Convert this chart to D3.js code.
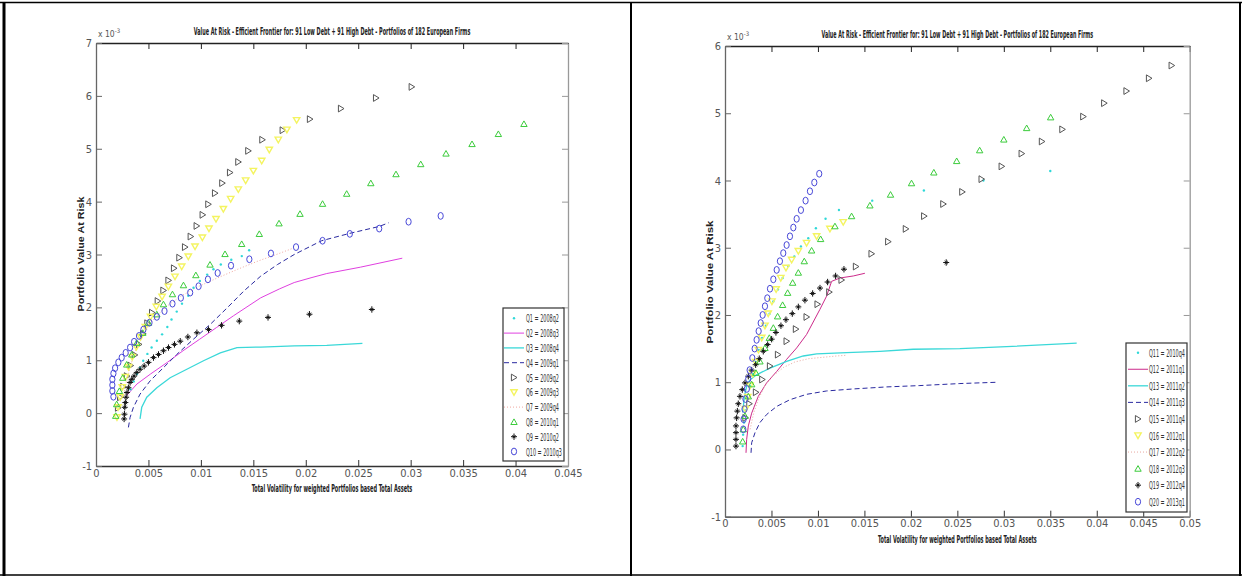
<!DOCTYPE html>
<html><head><meta charset="utf-8">
<script src="https://cdn.jsdelivr.net/npm/d3@7"></script>
<style>
html,body{margin:0;padding:0;background:#fff;}
svg{display:block;}
</style></head>
<body>
<svg id="c" width="1242" height="576"></svg>
<script>
// ---------------- DATA ----------------
const chartTitle = "Value At Risk - Efficient Frontier for: 91 Low Debt + 91 High Debt - Portfolios of 182 European Firms";
const xLabel = "Total Volatility for weighted Portfolios based Total Assets";
const yLabel = "Portfolio Value At Risk";

const leftLabels = ["Q1 = 2008q2","Q2 = 2008q3","Q3 = 2008q4","Q4 = 2009q1","Q5 = 2009q2","Q6 = 2009q3","Q7 = 2009q4","Q8 = 2010q1","Q9 = 2010q2","Q10 = 2010q3"];
const rightLabels = ["Q11 = 2010q4","Q12 = 2011q1","Q13 = 2011q2","Q14 = 2011q3","Q15 = 2011q4","Q16 = 2012q1","Q17 = 2012q2","Q18 = 2012q3","Q19 = 2012q4","Q20 = 2013q1"];

const leftXTicks = [0,0.005,0.01,0.015,0.02,0.025,0.03,0.035,0.04,0.045];
const leftYTicks = [-1,0,1,2,3,4,5,6,7];
const rightXTicks = [0,0.005,0.01,0.015,0.02,0.025,0.03,0.035,0.04,0.045,0.05];
const rightYTicks = [-1,0,1,2,3,4,5,6];

// left panel series: [volatility, VaR (x 10^-3)]
const L_Q1 = [[0.0033,0.45],[0.0036,0.60],[0.0039,0.74],[0.0042,0.86],[0.0045,0.99],[0.0049,1.12],[0.0053,1.24],[0.0058,1.37],[0.0063,1.49],[0.0068,1.63],[0.0072,1.77],[0.0077,1.92],[0.0082,2.07],[0.0088,2.22],[0.0093,2.37],[0.0099,2.50],[0.0106,2.62],[0.0112,2.72],[0.0119,2.81],[0.0129,2.90],[0.0139,2.97],[0.0146,3.08]];
const L_Q2 = [[0.0029,0.33],[0.0039,0.55],[0.0052,0.74],[0.0068,0.96],[0.0083,1.18],[0.0099,1.40],[0.0115,1.62],[0.0131,1.84],[0.0157,2.18],[0.0175,2.35],[0.0189,2.47],[0.0205,2.56],[0.0220,2.64],[0.0252,2.76],[0.0292,2.93]];
const L_Q3 = [[0.0042,-0.11],[0.00436,0.11],[0.00484,0.30],[0.0058,0.48],[0.00707,0.67],[0.00866,0.83],[0.01025,0.99],[0.01185,1.14],[0.01344,1.24],[0.0157,1.25],[0.0189,1.27],[0.0220,1.28],[0.0254,1.32]];
const L_Q4 = [[0.00309,-0.27],[0.00325,-0.08],[0.00357,0.11],[0.0042,0.36],[0.00516,0.61],[0.00643,0.86],[0.0077,1.11],[0.0093,1.40],[0.0109,1.68],[0.0125,1.99],[0.0141,2.31],[0.0157,2.59],[0.0173,2.81],[0.0189,3.00],[0.0215,3.26],[0.0242,3.40],[0.0270,3.53],[0.0279,3.60]];
const L_Q5 = [[0.0021,0.10],[0.0023,0.30],[0.0026,0.50],[0.00295,0.70],[0.0033,0.90],[0.0037,1.10],[0.0041,1.30],[0.0045,1.50],[0.0049,1.70],[0.00535,1.90],[0.00589,2.12],[0.00643,2.32],[0.00691,2.51],[0.00744,2.74],[0.00795,2.94],[0.00849,3.14],[0.00903,3.34],[0.0096,3.54],[0.01017,3.75],[0.01071,3.95],[0.01135,4.16],[0.01204,4.35],[0.01278,4.55],[0.01357,4.75],[0.01452,4.96],[0.01586,5.17],[0.0178,5.35],[0.0204,5.56],[0.02336,5.76],[0.0267,5.96],[0.0301,6.17]];
const L_Q6 = [[0.0020,-0.08],[0.0021,0.11],[0.0023,0.30],[0.0025,0.49],[0.0028,0.68],[0.0031,0.87],[0.00345,1.06],[0.00385,1.25],[0.00425,1.44],[0.0047,1.63],[0.0052,1.82],[0.00575,2.01],[0.0063,2.20],[0.0069,2.39],[0.00753,2.58],[0.00817,2.77],[0.0088,2.96],[0.00944,3.15],[0.01014,3.32],[0.01077,3.49],[0.01144,3.67],[0.01214,3.86],[0.01284,4.05],[0.01357,4.23],[0.01427,4.40],[0.0150,4.58],[0.0158,4.77],[0.01652,4.98],[0.01738,5.17],[0.0182,5.36],[0.01913,5.54]];
const L_Q7 = [[0.0026,0.30],[0.0030,0.70],[0.0036,1.10],[0.0044,1.45],[0.0054,1.75],[0.0066,2.00],[0.0080,2.20],[0.0096,2.38],[0.0115,2.55],[0.0135,2.72],[0.0155,2.88],[0.0172,3.00],[0.0188,3.12]];
const L_Q8 = [[0.00188,-0.05],[0.00197,0.17],[0.00223,0.42],[0.00255,0.67],[0.00293,0.92],[0.00341,1.11],[0.00389,1.33],[0.00446,1.52],[0.0050,1.71],[0.0058,1.87],[0.00643,2.06],[0.00729,2.25],[0.00834,2.42],[0.00952,2.61],[0.01087,2.81],[0.0123,3.01],[0.01389,3.20],[0.01557,3.39],[0.01745,3.59],[0.01945,3.77],[0.0216,3.96],[0.0239,4.15],[0.0262,4.35],[0.0286,4.52],[0.03096,4.71],[0.03337,4.91],[0.03585,5.09],[0.03836,5.28],[0.0408,5.47]];
const L_Q9 = [[0.00268,-0.11],[0.00271,-0.02],[0.00274,0.11],[0.0028,0.20],[0.00287,0.30],[0.00296,0.39],[0.00309,0.48],[0.00325,0.58],[0.00341,0.64],[0.00363,0.70],[0.00389,0.77],[0.0042,0.83],[0.00459,0.89],[0.0050,0.96],[0.00548,1.05],[0.00596,1.11],[0.00643,1.18],[0.00691,1.24],[0.00748,1.30],[0.00803,1.36],[0.00876,1.44],[0.00962,1.52],[0.01073,1.58],[0.01197,1.66],[0.01366,1.74],[0.0164,1.81],[0.02035,1.87],[0.0263,1.96]];
const L_Q10 = [[0.00166,0.31],[0.00156,0.42],[0.00156,0.53],[0.00156,0.64],[0.00166,0.75],[0.00182,0.85],[0.00213,0.96],[0.00245,1.05],[0.00283,1.14],[0.00325,1.24],[0.00363,1.35],[0.0041,1.46],[0.00452,1.58],[0.0051,1.71],[0.0058,1.82],[0.00653,1.93],[0.00729,2.07],[0.00809,2.18],[0.00898,2.28],[0.00978,2.40],[0.01067,2.53],[0.0116,2.65],[0.01287,2.79],[0.01462,2.91],[0.01668,3.02],[0.01907,3.14],[0.0216,3.26],[0.0242,3.39],[0.0270,3.49],[0.0298,3.62],[0.03286,3.73]];

// right panel series
const R_Q11 = [[0.0019,0.05],[0.00195,0.22],[0.00205,0.40],[0.0022,0.58],[0.00245,0.76],[0.0027,0.94],[0.0030,1.12],[0.0033,1.30],[0.00365,1.48],[0.0040,1.66],[0.0044,1.84],[0.0048,2.02],[0.0052,2.20],[0.0057,2.38],[0.0062,2.55],[0.00681,2.73],[0.00746,2.87],[0.00817,3.02],[0.00896,3.14],[0.00978,3.29],[0.01082,3.43],[0.01226,3.56],[0.01584,3.70],[0.0214,3.85],[0.0278,4.00],[0.0350,4.14]];
const R_Q12 = [[0.00226,-0.05],[0.00233,0.15],[0.00251,0.35],[0.00287,0.54],[0.00358,0.79],[0.00448,0.99],[0.00556,1.16],[0.00663,1.34],[0.00771,1.51],[0.00878,1.71],[0.0102,2.08],[0.01093,2.28],[0.01147,2.50],[0.01237,2.55],[0.0138,2.58],[0.01505,2.62]];
const R_Q13 = [[0.0019,0.55],[0.0021,0.80],[0.0024,0.98],[0.0028,1.05],[0.0034,1.11],[0.00484,1.21],[0.00663,1.31],[0.00842,1.39],[0.00986,1.42],[0.01308,1.44],[0.01667,1.46],[0.02025,1.49],[0.02527,1.50],[0.0303,1.53],[0.03784,1.58]];
const R_Q14 = [[0.0028,-0.05],[0.00287,0.10],[0.00323,0.25],[0.00376,0.40],[0.00448,0.52],[0.00556,0.64],[0.00699,0.74],[0.00878,0.82],[0.01093,0.87],[0.0138,0.90],[0.01738,0.93],[0.02097,0.95],[0.02527,0.98],[0.0294,1.00]];
const R_Q15 = [[0.0022,0.47],[0.00262,0.68],[0.00333,0.85],[0.00401,1.04],[0.00484,1.24],[0.0057,1.41],[0.00663,1.61],[0.00763,1.79],[0.00878,1.97],[0.00996,2.16],[0.01122,2.34],[0.01254,2.52],[0.01409,2.72],[0.01577,2.91],[0.01756,3.09],[0.01946,3.28],[0.02143,3.47],[0.02349,3.65],[0.02553,3.83],[0.02761,4.02],[0.02977,4.21],[0.03192,4.40],[0.0341,4.58],[0.0363,4.76],[0.03855,4.95],[0.0408,5.15],[0.0432,5.33],[0.04562,5.52],[0.04806,5.71]];
const R_Q16 = [[0.0022,0.60],[0.00245,0.78],[0.0027,0.95],[0.0030,1.12],[0.0033,1.30],[0.0036,1.48],[0.00395,1.66],[0.0043,1.84],[0.00465,2.02],[0.00505,2.20],[0.0055,2.38],[0.0060,2.55],[0.00656,2.70],[0.00717,2.82],[0.00789,2.95],[0.00878,3.07],[0.00986,3.17],[0.01129,3.28],[0.01272,3.38]];
const R_Q17 = [[0.0027,0.30],[0.0031,0.55],[0.0036,0.75],[0.0043,0.95],[0.0052,1.10],[0.0063,1.22],[0.0075,1.30],[0.0090,1.35],[0.0105,1.37],[0.0120,1.39],[0.0130,1.40]];
const R_Q18 = [[0.0019,0.12],[0.00197,0.30],[0.00215,0.50],[0.00251,0.79],[0.00287,0.97],[0.00333,1.14],[0.00376,1.31],[0.0043,1.51],[0.00477,1.66],[0.0052,1.81],[0.00566,1.98],[0.0062,2.15],[0.00674,2.33],[0.00728,2.48],[0.00789,2.63],[0.00853,2.80],[0.00932,2.96],[0.01029,3.13],[0.01183,3.32],[0.01362,3.47],[0.01559,3.63],[0.01781,3.79],[0.02007,3.96],[0.02247,4.12],[0.02493,4.29],[0.0274,4.45],[0.0300,4.61],[0.03246,4.78],[0.03504,4.94]];
const R_Q19 = [[0.00118,0.05],[0.00118,0.15],[0.00118,0.25],[0.00118,0.35],[0.00125,0.47],[0.00133,0.57],[0.00143,0.68],[0.00161,0.79],[0.00186,0.89],[0.00215,0.99],[0.00251,1.09],[0.00287,1.18],[0.0033,1.26],[0.00369,1.35],[0.00412,1.46],[0.00459,1.56],[0.00502,1.64],[0.00548,1.74],[0.00602,1.84],[0.00656,1.93],[0.00724,2.02],[0.00789,2.12],[0.0086,2.22],[0.00943,2.32],[0.01022,2.40],[0.01104,2.49],[0.0119,2.58],[0.0128,2.68],[0.0238,2.78]];
const R_Q20 = [[0.00197,0.30],[0.0020,0.45],[0.0021,0.60],[0.0022,0.75],[0.00235,0.90],[0.0025,1.05],[0.00265,1.18],[0.00294,1.36],[0.00319,1.50],[0.0034,1.63],[0.00362,1.76],[0.00384,1.88],[0.00405,2.00],[0.0043,2.13],[0.00455,2.25],[0.00484,2.39],[0.0052,2.53],[0.00556,2.67],[0.00591,2.80],[0.00627,2.92],[0.00663,3.04],[0.00699,3.17],[0.00735,3.30],[0.00771,3.43],[0.00817,3.56],[0.00867,3.70],[0.00914,3.84],[0.00961,3.97],[0.01014,4.10]];

// ---------------- STYLES ----------------
const leftStyles = [
  {kind:"dot", color:"#2fd8d8"},
  {kind:"line", color:"#e040e0"},
  {kind:"line", color:"#3ad8d8", width:1.3},
  {kind:"line", color:"#2a2aa0", dash:"5,3"},
  {kind:"triR", color:"#555555"},
  {kind:"triD", color:"#f4f460"},
  {kind:"line", color:"#f0a8a0", dash:"1,2"},
  {kind:"triU", color:"#3ccc3c"},
  {kind:"star", color:"#111111"},
  {kind:"circ", color:"#4848d8"}
];
const rightStyles = leftStyles.map((s,i)=> i===1 ? {kind:"line", color:"#cc2a8a"} : (i===6 ? {kind:"line", color:"#e8a8a0", dash:"1,2"} : s));

const FONT_N = "'Liberation Sans Narrow','DejaVu Sans Condensed','Arial Narrow',sans-serif";
const FONT_B = "'Liberation Sans',Arial,sans-serif";

const svg = d3.select("#c");

// table borders
const borders = svg.append("g").attr("stroke","#000");
borders.append("line").attr("x1",0).attr("x2",1242).attr("y1",2.5).attr("y2",2.5).attr("stroke-width",1.5);
borders.append("line").attr("x1",4).attr("x2",4).attr("y1",2).attr("y2",576).attr("stroke-width",3);
borders.append("line").attr("x1",631).attr("x2",631).attr("y1",2).attr("y2",576).attr("stroke-width",2);
borders.append("line").attr("x1",1240).attr("x2",1240).attr("y1",2).attr("y2",576).attr("stroke-width",2);
borders.append("line").attr("x1",0).attr("x2",1242).attr("y1",575).attr("y2",575).attr("stroke-width",1.5);

// fit a text to a target width by horizontal scaling (keeps glyph height)
function fitText(sel, cx, cy, width, rotate){
  const w = sel.node().getComputedTextLength();
  const k = w > 0 ? width / w : 1;
  sel.attr("x",0).attr("y",0)
     .attr("transform", `translate(${cx},${cy})` + (rotate?` rotate(${rotate})`:"") + ` scale(${k},1)`);
}

function markerPath(kind){
  if(kind==="triR") return "M-2.6,-3.4L3,0L-2.6,3.4Z";
  if(kind==="triD") return "M-3.2,-2.6L3.2,-2.6L0,3Z";
  if(kind==="triU") return "M-3.2,2.6L3.2,2.6L0,-3Z";
  if(kind==="star") return "M-3,0L3,0M0,-3.2L0,3.2M-1.6,-1.6L1.6,1.6M-1.6,1.6L1.6,-1.6";
  return null;
}

function drawMarker(g, kind, color, x, y){
  if(kind==="dot"){
    g.append("circle").attr("cx",x).attr("cy",y).attr("r",1.2).attr("fill",color);
  } else if(kind==="circ"){
    g.append("ellipse").attr("cx",x).attr("cy",y).attr("rx",2.6).attr("ry",3.4)
      .attr("fill","none").attr("stroke",color).attr("stroke-width",1);
  } else {
    g.append("path").attr("d",markerPath(kind)).attr("transform",`translate(${x},${y})`)
      .attr("fill","none").attr("stroke",color)
      .attr("stroke-width", kind==="star"?1:(kind==="triD"?1.4:1));
  }
}

function drawPanel(cfg){
  const x = d3.scaleLinear().domain(cfg.xDomain).range([cfg.left,cfg.right]);
  const y = d3.scaleLinear().domain(cfg.yDomain).range([cfg.bottom,cfg.top]);
  const g = svg.append("g");
  const fmt = d => String(+d.toFixed(3));

  // axes (ticks inward, MATLAB box)
  const axB = g.append("g").attr("transform",`translate(0,${cfg.bottom})`)
    .call(d3.axisBottom(x).tickValues(cfg.xTicks).tickFormat(fmt).tickSizeInner(-6).tickSizeOuter(0).tickPadding(3));
  const axT = g.append("g").attr("transform",`translate(0,${cfg.top})`)
    .call(d3.axisTop(x).tickValues(cfg.xTicks).tickFormat("").tickSizeInner(-6).tickSizeOuter(0));
  const axL = g.append("g").attr("transform",`translate(${cfg.left},0)`)
    .call(d3.axisLeft(y).tickValues(cfg.yTicks).tickFormat(d=>String(d)).tickSizeInner(-6).tickSizeOuter(0).tickPadding(4));
  const axR = g.append("g").attr("transform",`translate(${cfg.right},0)`)
    .call(d3.axisRight(y).tickValues(cfg.yTicks).tickFormat("").tickSizeInner(-6).tickSizeOuter(0));
  [[axB,"#333"],[axT,"#222"],[axL,"#666"],[axR,"#999"]].forEach(([a,c])=>{
    a.select(".domain").attr("stroke",c).attr("stroke-width",1.3);
    a.selectAll(".tick line").attr("stroke",c);
    a.selectAll("text").attr("fill","#555").style("font-family",FONT_N).style("font-size","11px");
  });

  // exponent
  const ex = g.append("text").attr("x",cfg.left+2).attr("y",cfg.top-6)
    .attr("fill","#555").style("font-family",FONT_N).style("font-size","8.5px");
  ex.append("tspan").text("x 10");
  ex.append("tspan").attr("dy",-4).style("font-size","6px").text("-3");

  // title
  const t = g.append("text").attr("text-anchor","middle").attr("fill","#222")
    .style("font-family",FONT_N).style("font-size","10.5px").style("font-weight","bold").text(chartTitle);
  fitText(t,(cfg.left+cfg.right)/2,cfg.top-8,cfg.titleLen);
  // x label
  const xl = g.append("text").attr("text-anchor","middle").attr("fill","#222")
    .style("font-family",FONT_N).style("font-size","11px").style("font-weight","bold").text(xLabel);
  fitText(xl,(cfg.left+cfg.right)/2,cfg.bottom+26,cfg.xLabLen);
  // y label
  const yl = g.append("text").attr("text-anchor","middle").attr("fill","#222")
    .style("font-family",FONT_B).style("font-size","9px").style("font-weight","bold").text(yLabel);
  fitText(yl,cfg.yLabX,cfg.yLabY,cfg.yLabLen,-90);

  // series
  const line = d3.line().x(d=>x(d[0])).y(d=>y(d[1]));
  const plot = g.append("g");
  cfg.series.forEach((data,i)=>{
    const s = cfg.styles[i];
    if(s.kind==="line"){
      plot.append("path").datum(data).attr("d",line).attr("fill","none")
        .attr("stroke",s.color).attr("stroke-width",s.width||1)
        .attr("stroke-dasharray",s.dash||null);
    }
  });
  cfg.series.forEach((data,i)=>{
    const s = cfg.styles[i];
    if(s.kind!=="line"){
      const mg = plot.append("g");
      data.forEach(d=>drawMarker(mg,s.kind,s.color,x(d[0]),y(d[1])));
    }
  });

  // legend
  const L = cfg.legend;
  const lg = g.append("g");
  lg.append("rect").attr("x",L.x0).attr("y",L.y0).attr("width",L.x1-L.x0).attr("height",L.y1-L.y0)
    .attr("fill","#fff").attr("stroke","#333").attr("stroke-width",1.2);
  cfg.labels.forEach((lab,i)=>{
    const s = cfg.styles[i];
    const cy = L.first + i*L.step;
    if(s.kind==="line"){
      lg.append("line").attr("x1",L.lx0).attr("x2",L.lx1).attr("y1",cy).attr("y2",cy)
        .attr("stroke",s.color).attr("stroke-width",s.width||1).attr("stroke-dasharray",s.dash||null);
    } else {
      drawMarker(lg,s.kind,s.color,(L.lx0+L.lx1)/2,cy);
    }
    const tx = lg.append("text").attr("fill","#333")
      .style("font-family",FONT_N).style("font-size","11px").text(lab);
    fitText(tx, L.tx, cy+4, lab.length*3.0);
  });
}

drawPanel({
  left:96, right:568, top:43, bottom:466,
  xDomain:[0,0.045], yDomain:[-1,7], xTicks:leftXTicks, yTicks:leftYTicks,
  titleLen:277, xLabLen:161, yLabX:84, yLabY:254, yLabLen:115,
  series:[L_Q1,L_Q2,L_Q3,L_Q4,L_Q5,L_Q6,L_Q7,L_Q8,L_Q9,L_Q10],
  styles:leftStyles, labels:leftLabels,
  legend:{x0:503,x1:564,y0:308,y1:461,first:318.3,step:14.8,lx0:504,lx1:524,tx:526}
});
drawPanel({
  left:725, right:1189.7, top:46, bottom:516.7,
  xDomain:[0,0.05], yDomain:[-1,6], xTicks:rightXTicks, yTicks:rightYTicks,
  titleLen:272, xLabLen:159, yLabX:713, yLabY:282, yLabLen:123,
  series:[R_Q11,R_Q12,R_Q13,R_Q14,R_Q15,R_Q16,R_Q17,R_Q18,R_Q19,R_Q20],
  styles:rightStyles, labels:rightLabels,
  legend:{x0:1126,x1:1187,y0:343,y1:512,first:352.7,step:16.56,lx0:1128,lx1:1148,tx:1149}
});
</script>
</body></html>
